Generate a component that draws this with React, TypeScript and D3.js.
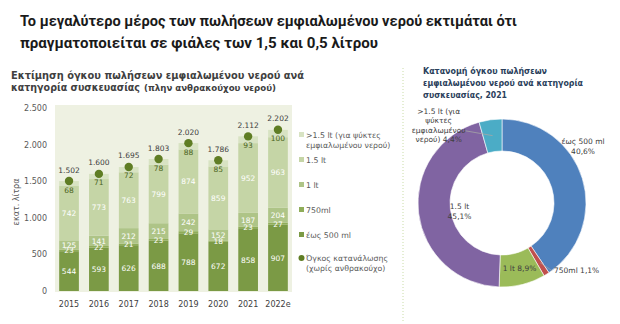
import React from 'react';
import * as d3 from 'd3';

const years = ['2015', '2016', '2017', '2018', '2019', '2020', '2021', '2022e'];
const upTo500 = [544, 593, 626, 688, 788, 672, 858, 907];
const ml750 = [23, 22, 21, 23, 29, 18, 23, 27];
const lt1 = [125, 141, 212, 215, 242, 152, 187, 204];
const lt15 = [742, 773, 763, 799, 874, 859, 952, 963];
const over15 = [68, 71, 72, 78, 88, 85, 93, 100];
const totals = [1502, 1600, 1695, 1803, 2020, 1786, 2112, 2202];
const yTicks = [0, 500, 1000, 1500, 2000, 2500];

const seriesKeys = ['upTo500', 'ml750', 'lt1', 'lt15', 'over15'];
const seriesColors = ['#7b9a45', '#8fad59', '#aec487', '#c5d5a6', '#d8e3c3'];
const legendLabels = [
  ['>1.5 lt (για ψύκτες', 'εμφιαλωμένου νερού)'],
  ['1.5 lt'],
  ['1 lt'],
  ['750ml'],
  ['έως 500 ml'],
];
const legendColors = ['#d8e3c3', '#c5d5a6', '#aec487', '#8fad59', '#7b9a45'];

const pieNames = ['έως 500 ml', '750ml', '1 lt', '1.5 lt', '>1.5 lt'];
const pieShares = [40.6, 1.1, 8.9, 45.1, 4.4];
const pieColors = ['#4f81bd', '#c0504d', '#9bbb59', '#8064a2', '#4bacc6'];

const FONT = '"DejaVu Sans", Verdana, sans-serif';
const TITLE_FONT = 'Roboto, "Noto Sans", sans-serif';

const locale = d3.formatLocale({ decimal: ',', thousands: '.', grouping: [3], currency: ['', '€'] });
const fmtInt = locale.format(',d');
const fmtPct = locale.format('.1f');

export default function App() {
  const rows = years.map((y, i) => ({
    year: y,
    upTo500: upTo500[i],
    ml750: ml750[i],
    lt1: lt1[i],
    lt15: lt15[i],
    over15: over15[i],
  }));
  const stacked = d3.stack<any>().keys(seriesKeys)(rows);

  const x = d3.scaleBand<string>().domain(years).range([55, 292]).paddingInner(0.34).paddingOuter(0.14);
  const y = d3.scaleLinear().domain([0, 2500]).range([291, 108]);

  // donut
  const cx = 502;
  const cy = 203;
  const rOuter = 84;
  const rInner = 52;
  const pie = d3.pie<number>().sort(null).value((d) => d)(pieShares);
  const arc = d3.arc<d3.PieArcDatum<number>>().innerRadius(rInner).outerRadius(rOuter);
  const labelOffsets: [number, number][] = [
    [16, -39],
    [16, 12],
    [1, 2],
    [25, -2],
    [-54, -22],
  ];

  return (
    <svg
      width={620}
      height={324}
      style={{ position: 'absolute', left: 0, top: 0, background: '#ffffff' }}
      fontFamily={FONT}
    >
      {/* Main title */}
      <text x={20} y={26} fontSize={15.5} fontWeight="bold" fill="#1a1a1a" fontFamily={TITLE_FONT} textLength={497} lengthAdjust="spacingAndGlyphs">
        Το μεγαλύτερο μέρος των πωλήσεων εμφιαλωμένου νερού εκτιμάται ότι
      </text>
      <text x={20} y={48} fontSize={15.5} fontWeight="bold" fill="#1a1a1a" fontFamily={TITLE_FONT} textLength={358} lengthAdjust="spacingAndGlyphs">
        πραγματοποιείται σε φιάλες των 1,5 και 0,5 λίτρου
      </text>

      {/* Bar chart title */}
      <text x={11} y={79} fontSize={10.5} fontWeight="bold" fill="#404040" textLength={293} lengthAdjust="spacingAndGlyphs">
        Εκτίμηση όγκου πωλήσεων εμφιαλωμένου νερού ανά
      </text>
      <text y={91} fontWeight="bold" fill="#404040">
        <tspan x={11} fontSize={10.5} textLength={129} lengthAdjust="spacingAndGlyphs">
          κατηγορία συσκευασίας
        </tspan>
        <tspan x={144} fontSize={9} textLength={132} lengthAdjust="spacingAndGlyphs">
          (πλην ανθρακούχου νερού)
        </tspan>
      </text>

      {/* plot background */}
      <rect x={55} y={105} width={237} height={187} fill="#eef1e2" />

      {/* y axis */}
      {yTicks.map((t) => (
        <text key={t} x={47} y={y(t) + 3} fontSize={8} fill="#595959" textAnchor="end">
          {fmtInt(t)}
        </text>
      ))}
      <text transform={`translate(19, 202) rotate(-90)`} fontSize={8} fill="#595959" textAnchor="middle">
        εκατ. λίτρα
      </text>

      {/* bars */}
      {stacked.map((s, si) => (
        <g key={s.key}>
          {s.map((d, i) => (
            <rect
              key={i}
              x={x(years[i])}
              y={y(d[1])}
              width={x.bandwidth()}
              height={y(d[0]) - y(d[1])}
              fill={seriesColors[si]}
            />
          ))}
        </g>
      ))}
      {/* totals dots */}
      {totals.map((t, i) => {
        const px = (x(years[i]) as number) + x.bandwidth() / 2;
        return (
          <g key={'t' + i}>
            <circle cx={px} cy={y(t)} r={4.2} fill="#5f7d24" />
            <text x={px} y={y(t) - 8.5} fontSize={7.5} textAnchor="middle" fill="#404040">
              {fmtInt(t)}
            </text>
          </g>
        );
      })}
      {/* segment labels */}
      {stacked.map((s, si) => (
        <g key={'l' + s.key}>
          {s.map((d, i) => (
            <text
              key={i}
              x={(x(years[i]) as number) + x.bandwidth() / 2}
              y={si === 4 ? y(d[1]) + 11.5 : y((d[0] + d[1]) / 2) + 3}
              fontSize={7.5}
              textAnchor="middle"
              fill={si === 4 ? '#4b6320' : '#ffffff'}
            >
              {d[1] - d[0]}
            </text>
          ))}
        </g>
      ))}

      {/* x labels */}
      {years.map((yr) => (
        <text key={yr} x={(x(yr) as number) + x.bandwidth() / 2} y={307} fontSize={8} textAnchor="middle" fill="#404040">
          {yr}
        </text>
      ))}

      {/* legend */}
      {legendLabels.map((lines, i) => {
        const ly = 135 + i * 25;
        return (
          <g key={'lg' + i}>
            <rect x={299} y={ly - 3} width={5} height={5} fill={legendColors[i]} />
            {lines.map((ln, j) => (
              <text key={j} x={306} y={ly + 3 + j * 10} fontSize={7.8} fill="#595959">
                {ln}
              </text>
            ))}
          </g>
        );
      })}
      <circle cx={301.5} cy={258} r={3} fill="#5f7d24" />
      <text x={306} y={261} fontSize={7.8} fill="#595959">
        Όγκος κατανάλωσης
      </text>
      <text x={306} y={271} fontSize={7.8} fill="#595959">
        (χωρίς ανθρακούχο)
      </text>

      {/* separator */}
      <line x1={403} y1={68} x2={403} y2={322} stroke="#c9dca6" strokeWidth={1} strokeDasharray="1,2" />

      {/* pie title */}
      <text x={423} y={74} fontSize={9.5} fontWeight="bold" fill="#2b3f5c" textLength={124} lengthAdjust="spacingAndGlyphs">
        Κατανομή όγκου πωλήσεων
      </text>
      <text x={423} y={86} fontSize={9.5} fontWeight="bold" fill="#2b3f5c" textLength={160} lengthAdjust="spacingAndGlyphs">
        εμφιαλωμένου νερού ανά κατηγορία
      </text>
      <text x={423} y={98} fontSize={9.5} fontWeight="bold" fill="#2b3f5c" textLength={84} lengthAdjust="spacingAndGlyphs">
        συσκευασίας, 2021
      </text>

      {/* donut */}
      <g transform={`translate(${cx},${cy})`}>
        {pie.map((p, i) => (
          <path key={i} d={arc(p) as string} fill={pieColors[i]} stroke="#ffffff" strokeWidth={0.6} />
        ))}
        {(() => {
          const c = arc.centroid(pie[4]);
          return <line x1={c[0] - 28} y1={c[1] - 5} x2={c[0]} y2={c[1]} stroke="#a6a6a6" strokeWidth={0.8} />;
        })()}
        {(() => {
          const c = arc.centroid(pie[1]);
          return <line x1={c[0] + 2} y1={c[1] + 2} x2={c[0] + 14} y2={c[1] + 10} stroke="#a6a6a6" strokeWidth={0.6} />;
        })()}
        {pie.map((p, i) => {
          const c = arc.centroid(p);
          const lx = c[0] + labelOffsets[i][0];
          const ly = c[1] + labelOffsets[i][1];
          const pct = fmtPct(pieShares[i]) + '%';
          let lines: string[];
          let anchor: 'middle' | 'start' = 'middle';
          if (i === 0) lines = [pieNames[i], pct];
          else if (i === 1) {
            lines = [pieNames[i] + ' ' + pct];
            anchor = 'start';
          } else if (i === 2) lines = [pieNames[i] + ' ' + pct];
          else if (i === 3) lines = [pieNames[i], pct];
          else lines = ['>1.5 lt (για', 'ψύκτες', 'εμφιαλωμένου', 'νερού) ' + pct];
          return (
            <text key={'pl' + i} fontSize={7.5} fill="#404040" textAnchor={anchor}>
              {lines.map((ln, j) => (
                <tspan key={j} x={lx} y={ly + j * 9.5}>
                  {ln}
                </tspan>
              ))}
            </text>
          );
        })}
      </g>
    </svg>
  );
}
